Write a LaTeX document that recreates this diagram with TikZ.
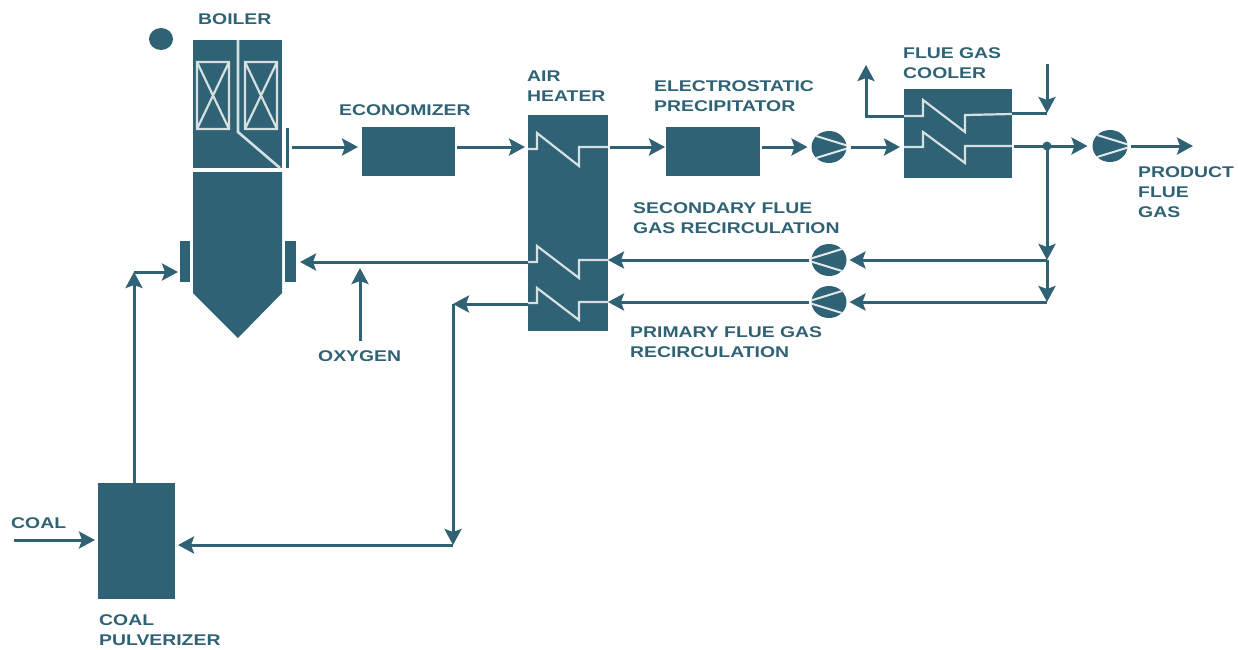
\documentclass[tikz,border=0pt]{standalone}
\usepackage{fontspec}
\setmainfont[FakeStretch=1.25]{Liberation Sans}
\usetikzlibrary{arrows.meta,calc,shapes.geometric}
\definecolor{teal1}{HTML}{2F6274}
\tikzset{
 x=1pt,y=-1pt,
 unitbox/.style={fill=teal1,draw=none,inner sep=0pt,outer sep=0pt},
 flow/.style={draw=teal1,line width=3pt,line join=miter,-{Stealth[length=16pt,width=17pt,inset=3pt]}},
 pipe/.style={draw=teal1,line width=3pt},
 coil/.style={draw=white!80!teal1,line width=2.2pt,line join=miter},
 lab/.style={text=teal1,font=\bfseries\fontsize{15.5}{20}\selectfont,align=left,anchor=north west,inner sep=0pt},
}
% name, x1, y1, x2, y2
\newcommand{\unitat}[5]{\node[unitbox,rectangle,minimum width=\dimexpr#4pt-#2pt\relax,minimum height=\dimexpr#5pt-#3pt\relax] (#1) at ({(#2+#4)/2},{(#3+#5)/2}) {};}
\newcommand{\blower}[4]{% name,x,y,dir (1 right,-1 left)
 \node[ellipse,unitbox,minimum width=35pt,minimum height=32pt] (#1) at (#2,#3) {};
 \draw[white!85!teal1,line width=2pt] ($(#2,#3)+(-13*#4,-11)$) -- ($(#2,#3)+(18*#4,-1.5)$);
 \draw[white!85!teal1,line width=2pt] ($(#2,#3)+(-13*#4,11)$) -- ($(#2,#3)+(18*#4,1.5)$);}
\begin{document}
\begin{tikzpicture}
\useasboundingbox (0,0) rectangle (1238,649);
% boiler
\node[ellipse,unitbox,minimum width=24pt,minimum height=22pt] (dot) at (161,39) {};
\unitat{upper}{193}{40}{282}{168}
\fill[teal1] (193,172) -- (282,172) -- (282,293) -- (238,338) -- (193,293) -- cycle;
\draw[coil,line width=2.6pt] (238,40) -- (238,132) -- (280,168);
\foreach \a/\b in {197/229,245/277}{
 \draw[coil] (\a,62) rectangle (\b,129) (\a,62) -- (\b,129) (\a,129) -- (\b,62);}
\unitat{outlet}{286}{128}{289}{168}
\unitat{burnerL}{180}{241}{190}{282}
\unitat{burnerR}{285}{241}{296}{282}
% units
\unitat{econ}{362}{127}{455}{176}
\unitat{heater}{528}{115}{608}{331}
\unitat{esp}{666}{127}{760}{176}
\unitat{cooler}{904}{89}{1012}{178}
\unitat{pulv}{98}{483}{175}{599}
% coils
\draw[coil] (528,149) -- (537,149) -- (537,133) -- (579,166) -- (579,147) -- (608,147);
\draw[coil] (528,262) -- (537,262) -- (537,246) -- (579,278) -- (579,260) -- (608,260);
\draw[coil] (528,303) -- (537,303) -- (537,288) -- (579,320) -- (579,302) -- (608,302);
\draw[coil] (904,116) -- (923,116) -- (923,100) -- (965,132) -- (965,115) -- (1012,114);
\draw[coil] (904,147) -- (923,147) -- (923,132) -- (965,163) -- (965,146) -- (1012,146);
% blowers
\blower{b1}{829}{147}{1}
\blower{b2}{1110}{146}{1}
\blower{b3}{829}{260}{-1}
\blower{b4}{829}{302}{-1}
% free ends and junctions
\coordinate (ytop) at (0,147);
\coordinate (ysec) at (0,260);
\coordinate (ypri) at (0,302);
\coordinate (hot) at (866,65);
\coordinate (hotc) at (866,116);
\coordinate (cold) at (1047,64);
\coordinate (coldc) at (1047,113);
\coordinate (tee) at (1047,146);
\coordinate (j1) at (1047,260);
\coordinate (j2) at (1047,302);
\coordinate (prod) at (1193,146);
\coordinate (oxyin) at (360,341);
\coordinate (oxy) at (360,268);
\coordinate (air) at (300,262);
\coordinate (corner) at (453,304);
\coordinate (cornerb) at (453,545);
\coordinate (coal) at (14,540);
\coordinate (up) at (134,272);
% flows
\draw[flow] (outlet.east |- ytop) ++(3,0) -- (358,147);
\draw[flow] ($(econ.east |- ytop)+(2,0)$) -- ($(heater.west |- ytop)+(-3,0)$);
\draw[flow] ($(heater.east |- ytop)+(2,0)$) -- ($(esp.west |- ytop)+(-1,0)$);
\draw[flow] ($(esp.east |- ytop)+(2,0)$) -- ($(b1.west)+(-4,0)$);
\draw[flow] ($(b1.east)+(4,0)$) -- ($(cooler.west |- ytop)+(-4,0)$);
\draw[flow] (cooler.west |- hotc) -- (hotc) -- (hot);
\draw[pipe] (cooler.east |- coldc) -- (coldc);
\draw[flow] (cold) -- (coldc);
\draw[flow] (cooler.east |- tee) ++(2,0) -- ($(b2.west)+(-5,0)$);
\node[circle,unitbox,minimum size=9pt] (dotj) at (tee) {};
\draw[flow] ($(b2.east)+(3,0)$) -- (prod);
\draw[flow] (tee) -- (j1);
\draw[flow] (j1) -- (j2);
\draw[flow] (j1) -- ($(b3.east)+(3,0)$);
\draw[flow] (j2) -- ($(b4.east)+(3,0)$);
\draw[flow] ($(b3.west)+(-3,0)$) -- (heater.east |- ysec);
\draw[flow] ($(b4.west)+(-3,0)$) -- (heater.east |- ypri);
\draw[flow] (heater.west |- air) -- ($(burnerR.east |- air)+(4,0)$);
\draw[flow] (oxyin) -- (oxy);
\draw[flow] (heater.west |- corner) -- (corner);
\draw[flow] (corner) -- (cornerb);
\draw[flow] (cornerb) -- ($(pulv.east |- cornerb)+(3,0)$);
\draw[flow] (coal) -- ($(pulv.west |- coal)+(-3,0)$);
\draw[flow] (pulv.north -| up) -- (up);
\draw[flow] (up) -- ($(burnerL.west |- up)+(-2,0)$);
% labels
\node[lab] (l1) at (198,13) {BOILER};
\node[lab] (l2) at (339,104) {ECONOMIZER};
\node[lab] (l3) at (527,71) {AIR\\HEATER};
\node[lab] (l4) at (654,80) {ELECTROSTATIC\\PRECIPITATOR};
\node[lab] (l5) at (903,47) {FLUE GAS\\COOLER};
\node[lab] (l6) at (1138,166) {PRODUCT\\FLUE\\GAS};
\node[lab] (l7) at (633,202) {SECONDARY FLUE\\GAS RECIRCULATION};
\node[lab] (l8) at (630,326) {PRIMARY FLUE GAS\\RECIRCULATION};
\node[lab] (l9) at (318,350) {OXYGEN};
\node[lab] (l10) at (11,517) {COAL};
\node[lab] (l11) at (99,614) {COAL\\PULVERIZER};
\end{tikzpicture}
\end{document}
